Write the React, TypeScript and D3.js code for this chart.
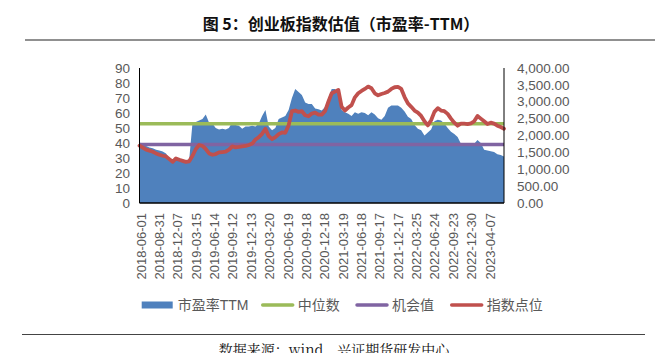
import React from "react";
import * as d3 from "d3";

// X axis: trading-day index, one tick label every 63 trading days
const tickLabels = [
  "2018-06-01", "2018-08-31", "2018-12-07", "2019-03-15", "2019-06-14",
  "2019-09-12", "2019-12-13", "2020-03-20", "2020-06-19", "2020-09-18",
  "2020-12-18", "2021-03-19", "2021-06-18", "2021-09-17", "2021-12-17",
  "2022-03-25", "2022-06-24", "2022-09-23", "2022-12-30", "2023-04-07",
];
const TICK_EVERY = 63;
const TOTAL_DAYS = 1250;
const DAY_STEP = 1250 / 110; // samples every ~11.4 trading days

// 市盈率TTM (left axis)
const peTTM = [
  40.5, 39, 38, 37, 36.5, 35.5, 35, 34.3, 33, 29.5,
  29, 29.5, 29, 28.5, 28.5, 29, 53.5, 54, 55, 56,
  59, 53.5, 53, 50, 49, 49.5, 49, 50, 54, 52,
  51.5, 49.5, 51, 51, 51.5, 51, 53, 58, 62, 51,
  48.5, 50, 56, 57, 58, 62, 70, 76, 74, 72,
  67, 66, 66, 63, 62.5, 61.6, 64, 70, 76, 76,
  73, 62, 60.5, 59.5, 58, 60.5, 59.5, 60.5, 60, 58.5,
  60.5, 59, 56.5, 55.5, 58, 63.5, 65, 65, 65, 63.5,
  61, 57.5, 56, 52, 49.5, 48.5, 45, 47, 49, 54.5,
  55.5, 55, 53, 50, 47.5, 46, 44, 39.5, 39, 39.3,
  39, 39.5, 42, 40, 35.5, 35, 34.5, 34, 32.5, 32,
  31,
];

// 指数点位 (right axis)
const indexPoints = [
  1700, 1640, 1580, 1550, 1520, 1470, 1430, 1400, 1380, 1300,
  1220, 1320, 1280, 1250, 1220, 1235, 1400, 1600, 1720, 1690,
  1600, 1470, 1430, 1450, 1500, 1510, 1520, 1580, 1680, 1650,
  1660, 1680, 1690, 1720, 1760, 1880, 1950, 2050, 2200, 1980,
  1890, 1950, 2040, 2090, 2080, 2300, 2720, 2740, 2700, 2720,
  2600, 2570, 2650, 2680, 2620, 2620, 2720, 3000, 3250, 3300,
  3350, 2850, 2740, 2830, 2900, 3130, 3250, 3320, 3380, 3450,
  3400, 3250, 3190, 3230, 3260, 3300, 3380, 3430, 3440, 3380,
  3140, 2950, 2850, 2740, 2680, 2580, 2420, 2300, 2450, 2700,
  2810, 2740, 2720, 2640, 2500, 2380, 2290, 2350, 2350, 2340,
  2360, 2420, 2580, 2500, 2420, 2340, 2380, 2350, 2290, 2250,
  2200,
];

const medianPE = 52.8; // 中位数
const opportunityPE = 39; // 机会值

const leftTicks = [0, 10, 20, 30, 40, 50, 60, 70, 80, 90];
const rightTicks = [0, 500, 1000, 1500, 2000, 2500, 3000, 3500, 4000];

const legendItems = [
  { name: "市盈率TTM", color: "#4F81BD", kind: "rect" },
  { name: "中位数", color: "#9BBB59", kind: "line" },
  { name: "机会值", color: "#8064A2", kind: "line" },
  { name: "指数点位", color: "#C0504D", kind: "line" },
];

const W = 664;
const H = 353;
const plot = { left: 139.5, right: 504, top: 68, bottom: 203 };
const axisFont = "'Liberation Sans', 'Noto Sans CJK SC', sans-serif";
const textColor = "#595959";

export default function App() {
  const x = d3.scaleLinear().domain([0, TOTAL_DAYS]).range([plot.left, plot.right]);
  const yL = d3.scaleLinear().domain([0, 90]).range([plot.bottom, plot.top]);
  const yR = d3.scaleLinear().domain([0, 4000]).range([plot.bottom, plot.top]);

  const area = d3
    .area<number>()
    .x((_, i) => x(i * DAY_STEP))
    .y0(yL(0))
    .y1((d) => yL(d));
  const line = d3
    .line<number>()
    .x((_, i) => x(i * DAY_STEP))
    .y((d) => yR(d));

  const legendX = [141.7, 261.7, 356, 450.7];
  const legendY = 305;

  return (
    <svg
      width={W}
      height={H}
      style={{ position: "absolute", left: 0, top: 0, background: "#fff" }}
    >
      <rect x={0} y={0} width={W} height={H} fill="#fff" />
      {/* title */}
      <text
        x={341}
        y={30}
        textAnchor="middle"
        fontFamily="'Noto Sans CJK SC', sans-serif"
        fontWeight="bold"
        fontSize={16}
        fill="#111"
      >
        图 5：创业板指数估值（市盈率-TTM）
      </text>
      <line x1={25} x2={655} y1={40} y2={40} stroke="#222" strokeWidth={1.2} />

      {/* PE area */}
      <path d={area(peTTM) || ""} fill="#4F81BD" />
      {/* median & opportunity lines */}
      <line
        x1={plot.left}
        x2={plot.right}
        y1={yL(medianPE)}
        y2={yL(medianPE)}
        stroke="#9BBB59"
        strokeWidth={3.5}
      />
      <line
        x1={plot.left}
        x2={plot.right}
        y1={yL(opportunityPE)}
        y2={yL(opportunityPE)}
        stroke="#8064A2"
        strokeWidth={3.5}
      />
      {/* index line */}
      <path
        d={line(indexPoints) || ""}
        fill="none"
        stroke="#C0504D"
        strokeWidth={3.8}
        strokeLinejoin="round"
        strokeLinecap="round"
      />

      {/* axes */}
      <line x1={plot.left} x2={plot.left} y1={plot.top} y2={plot.bottom} stroke="#000" strokeWidth={1} />
      <line x1={plot.right} x2={plot.right} y1={plot.top} y2={plot.bottom} stroke="#000" strokeWidth={1} />
      <line x1={plot.left} x2={plot.right} y1={plot.bottom} y2={plot.bottom} stroke="#000" strokeWidth={1.3} />

      {leftTicks.map((t) => (
        <text
          key={"l" + t}
          x={130}
          y={yL(t)}
          dy="0.35em"
          textAnchor="end"
          fontFamily={axisFont}
          fontSize={13.5}
          fill={textColor}
        >
          {t}
        </text>
      ))}
      {rightTicks.map((t) => (
        <text
          key={"r" + t}
          x={517}
          y={yR(t)}
          dy="0.35em"
          textAnchor="start"
          fontFamily={axisFont}
          fontSize={13.5}
          fill={textColor}
        >
          {d3.format(",.2f")(t)}
        </text>
      ))}
      {tickLabels.map((lab, k) => {
        const tx = x(k * TICK_EVERY) + 1.5;
        return (
          <text
            key={lab}
            transform={`translate(${tx},${213}) rotate(-90)`}
            dy="0.35em"
            textAnchor="end"
            fontFamily={axisFont}
            fontSize={13}
            fill={textColor}
          >
            {lab}
          </text>
        );
      })}

      {/* legend */}
      {legendItems.map((it, i) => (
        <g key={it.name} transform={`translate(${legendX[i]},${legendY})`}>
          {it.kind === "rect" ? (
            <rect x={0} y={-3.5} width={31} height={7} fill={it.color} />
          ) : (
            <line x1={1} x2={31} y1={0} y2={0} stroke={it.color} strokeWidth={3.5} strokeLinecap="round" />
          )}
          <text
            x={36}
            y={0}
            dy="0.35em"
            fontFamily={axisFont}
            fontSize={14}
            fill={textColor}
          >
            {it.name}
          </text>
        </g>
      ))}

      {/* bottom rule & source */}
      <line x1={22} x2={645} y1={334.5} y2={334.5} stroke="#444" strokeWidth={1.2} />
      <text
        x={334}
        y={355}
        textAnchor="middle"
        fontFamily="'Noto Serif CJK SC', 'Noto Sans CJK SC', serif"
        fontSize={14}
        fill="#111"
      >
        数据来源：wind，兴证期货研发中心
      </text>
    </svg>
  );
}
